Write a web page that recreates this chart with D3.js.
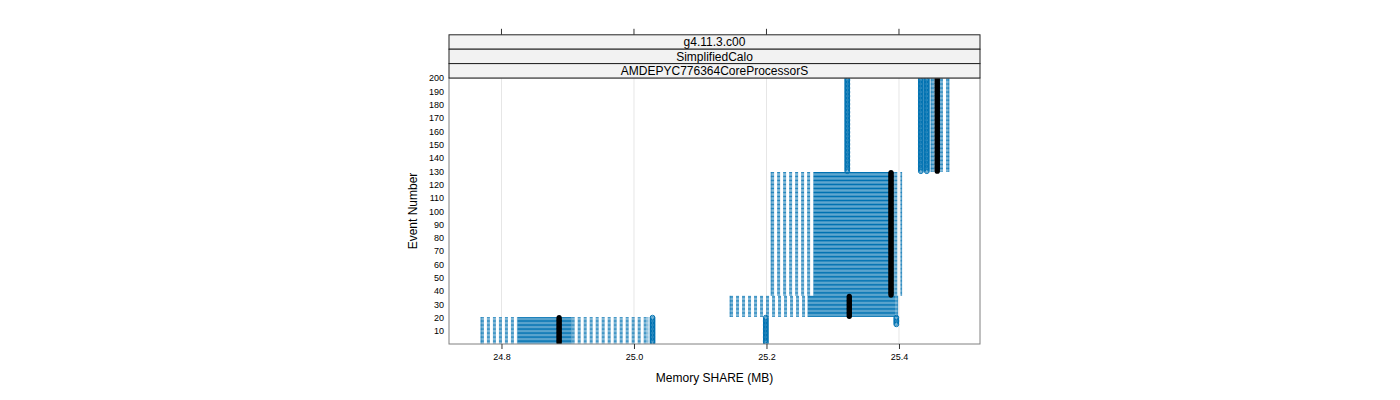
<!DOCTYPE html>
<html><head><meta charset="utf-8">
<script src="https://cdn.jsdelivr.net/npm/d3@7"></script>
<style>body{margin:0;background:#fff}svg{display:block;font-family:"Liberation Sans",Arial,sans-serif}</style>
</head><body>
<svg id="c" width="1400" height="400"></svg>
<script>
// Event-number groups sharing the same box statistics
const groupFirstEvent = [1, 21, 37, 130];
const groupLastEvent  = [20, 36, 129, 200];
const whiskerLow  = [24.769, 25.145, 25.207, 25.4483];
const q1          = [24.824, 25.262, 25.271, 25.4536];
const median      = [24.887, 25.325, 25.388, 25.4578];
const q3          = [24.906, 25.394, 25.393, 25.4619];
const whiskerHigh = [25.021, 25.398, 25.404, 25.4755];
// outliers: event range and value
const outlierFirst = [1, 1, 15, 130, 130, 130];
const outlierLast  = [20, 20, 20, 200, 200, 200];
const outlierValue = [25.028, 25.199, 25.396, 25.322, 25.433, 25.442];
const xTicks = [24.8, 25.0, 25.2, 25.4];
const yTicks = d3.range(10, 201, 10);
const strips = ["g4.11.3.c00", "SimplifiedCalo", "AMDEPYC776364CoreProcessorS"];
const xTitle = "Memory SHARE (MB)";
const yTitle = "Event Number";

const svg = d3.select("#c");
const L = 449, R = 980, T = 78, B = 344;
const x = d3.scaleLinear().domain([24.7208, 25.5223]).range([L, R]);
const y = d3.scaleLinear().domain([0, 200]).range([B + 0.3, T]);
const col = "#0072B2";

// grid
svg.append("g").selectAll("line").data(xTicks).join("line")
  .attr("x1", d => x(d)).attr("x2", d => x(d)).attr("y1", T).attr("y2", B)
  .attr("stroke", "#e6e6e6").attr("stroke-width", 1);

svg.append("defs").append("clipPath").attr("id", "pc")
  .append("rect").attr("x", L).attr("y", T).attr("width", R - L).attr("height", B - T);
const g = svg.append("g").attr("clip-path", "url(#pc)");

const rows = [];
groupFirstEvent.forEach((f, i) => {
  for (let e = f; e <= groupLastEvent[i]; e++) rows.push({e, i});
});
const h = 1.1;
// whiskers
g.append("g").selectAll("line").data(rows).join("line")
  .attr("x1", d => x(whiskerLow[d.i])).attr("x2", d => x(q1[d.i]))
  .attr("y1", d => y(d.e)).attr("y2", d => y(d.e))
  .attr("stroke", col).attr("stroke-width", 1).attr("stroke-dasharray", "3,3").attr("opacity", 0.85);
g.append("g").selectAll("line").data(rows).join("line")
  .attr("x1", d => x(q3[d.i])).attr("x2", d => x(whiskerHigh[d.i]))
  .attr("y1", d => y(d.e)).attr("y2", d => y(d.e))
  .attr("stroke", col).attr("stroke-width", 1).attr("stroke-dasharray", "3,3").attr("opacity", 0.85);
// staples
["low", "high"].forEach(k => {
  g.append("g").selectAll("line").data(rows).join("line")
    .attr("x1", d => x(k === "low" ? whiskerLow[d.i] : whiskerHigh[d.i]))
    .attr("x2", d => x(k === "low" ? whiskerLow[d.i] : whiskerHigh[d.i]))
    .attr("y1", d => y(d.e) - h / 2).attr("y2", d => y(d.e) + h / 2)
    .attr("stroke", col).attr("stroke-width", 0.8);
});
// boxes
g.append("g").selectAll("rect").data(rows).join("rect")
  .attr("x", d => x(q1[d.i])).attr("width", d => x(q3[d.i]) - x(q1[d.i]))
  .attr("y", d => y(d.e) - h / 2).attr("height", h)
  .attr("fill", col);
// outliers
const outs = [];
outlierValue.forEach((v, i) => {
  for (let e = outlierFirst[i]; e <= outlierLast[i]; e++) outs.push({e, v});
});
g.append("g").selectAll("circle").data(outs).join("circle")
  .attr("cx", d => x(d.v)).attr("cy", d => y(d.e)).attr("r", 2.4)
  .attr("fill", "none").attr("stroke", col).attr("stroke-width", 1);
// medians
g.append("g").selectAll("circle").data(rows).join("circle")
  .attr("cx", d => x(median[d.i])).attr("cy", d => y(d.e)).attr("r", 2.6)
  .attr("fill", "#000");

// panel border
svg.append("rect").attr("x", L).attr("y", T).attr("width", R - L).attr("height", B - T)
  .attr("fill", "none").attr("stroke", "#808080").attr("stroke-width", 1);

// strips
const sh = 14.4;
strips.forEach((s, i) => {
  const y0 = T - sh * (strips.length - i);
  svg.append("rect").attr("x", L).attr("y", y0).attr("width", R - L).attr("height", sh)
    .attr("fill", "#f2f2f2").attr("stroke", "#222").attr("stroke-width", 1);
  svg.append("text").attr("x", (L + R) / 2).attr("y", y0 + sh / 2 + 4.3)
    .attr("text-anchor", "middle").attr("font-size", 12).attr("fill", "#000").text(s);
});
const topY = T - sh * strips.length;
// top ticks
svg.append("g").selectAll("line").data(xTicks).join("line")
  .attr("x1", d => x(d)).attr("x2", d => x(d)).attr("y1", topY - 6).attr("y2", topY)
  .attr("stroke", "#333").attr("stroke-width", 1);
// bottom axis
const xAxis = d3.axisBottom(x).tickValues(xTicks).tickFormat(d3.format(".1f")).tickSize(5).tickSizeOuter(0);
const xa = svg.append("g").attr("transform", `translate(0,${B})`).call(xAxis);
xa.select(".domain").remove();
xa.selectAll("line").attr("stroke", "#333");
xa.selectAll("text").attr("font-size", 9).attr("fill", "#000").attr("dy", "0.9em")
  .style("font-family", '"Liberation Sans",Arial,sans-serif');
// left axis
const yAxis = d3.axisLeft(y).tickValues(yTicks).tickSize(0).tickPadding(5);
const ya = svg.append("g").attr("transform", `translate(${L},0)`).call(yAxis);
ya.select(".domain").remove();
ya.selectAll("text").attr("font-size", 9).attr("fill", "#000")
  .style("font-family", '"Liberation Sans",Arial,sans-serif');

svg.append("text").attr("x", (L + R) / 2).attr("y", 382).attr("text-anchor", "middle")
  .attr("font-size", 12).text(xTitle);
svg.append("text").attr("transform", `translate(417,${(T + B) / 2}) rotate(-90)`)
  .attr("text-anchor", "middle").attr("font-size", 12).text(yTitle);
</script>
</body></html>
